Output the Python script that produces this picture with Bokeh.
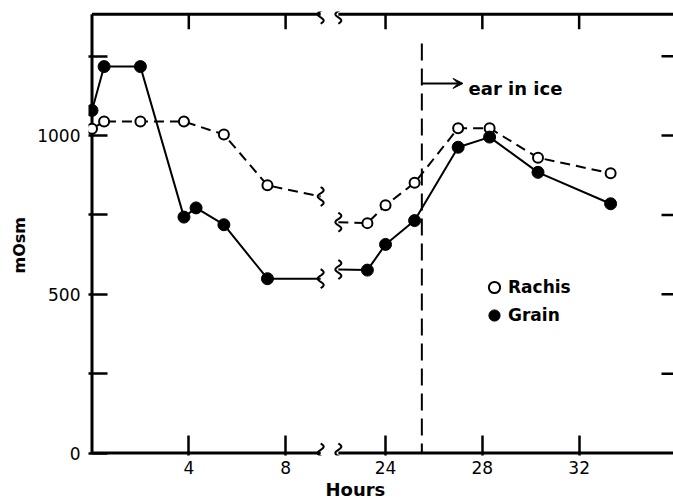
import numpy as np
from bokeh.plotting import figure
from bokeh.models import (Range1d, LinearAxis, FixedTicker, CustomJSTickFormatter, Label,
                          Legend, LegendItem, Arrow, VeeHead, Title)
from bokeh.embed import file_html
from bokeh.resources import INLINE

# ---------------- data ----------------
rachis_hours = [0, 0.5, 2, 3.8, 5.45, 7.25, 23.25, 24, 25.2, 27, 28.3, 30.3, 33.3]
rachis_mosm = [1021, 1044, 1044, 1044, 1003, 843, 724, 780, 851, 1023, 1023, 930, 881]
grain_hours = [0, 0.5, 2, 3.8, 4.3, 5.45, 7.25, 23.25, 24, 25.2, 27, 28.3, 30.3, 33.3]
grain_mosm = [1079, 1217, 1217, 743, 772, 719, 549, 576, 657, 732, 963, 995, 884, 785]
# line values where each series meets the axis break (left side, right side)
break_hours = [9.45, 22.05]
rachis_break_mosm = [808, 727]
grain_break_mosm = [549, 578]

x_tick_hours = [4, 8, 24, 28, 32]
y_ticks = [0, 250, 500, 750, 1000, 1250]
ice_hour = 25.5

# ---------------- geometry ----------------
W, H = 673, 501
B_L, B_T, B_B = 88, 11, 46
FRAME_W = W - B_L
FRAME_H = H - B_T - B_B
PX_U = 24.2      # pixels per plotted hour
PX_Y = 0.3175    # pixels per mOsm
GAP = 11.87      # hours cut out by the axis break

x_start = -3.5 / PX_U
x_end = x_start + FRAME_W / PX_U
y_start = -2.5 / PX_Y
y_end = y_start + FRAME_H / PX_Y
y_top = 1382


def to_u(h):
    return h if h < 15 else h - GAP


u_bl, u_br = to_u(break_hours[0]), to_u(break_hours[1])

p = figure(width=W, height=H, x_range=Range1d(x_start, x_end), y_range=Range1d(y_start, y_end),
           output_backend="svg", toolbar_location=None, x_axis_location=None, y_axis_location=None,
           min_border_left=B_L, min_border_right=0, min_border_top=B_T, min_border_bottom=B_B)
p.outline_line_color = None
p.grid.visible = False
p.background_fill_color = "white"
p.border_fill_color = "white"

FONT = "DejaVu Sans"

xaxis = LinearAxis(ticker=FixedTicker(ticks=[to_u(h) for h in x_tick_hours]),
                   formatter=CustomJSTickFormatter(args=dict(off=GAP),
                                                   code="return (tick > 10 ? tick + off : tick).toFixed(0);"),
                   axis_line_color=None, major_tick_in=20, major_tick_out=0,
                   major_tick_line_width=2.5, major_tick_line_color="black",
                   minor_tick_line_color=None, major_label_standoff=5,
                   major_label_text_font=FONT, major_label_text_font_size="17px",
                   major_label_text_color="black")
p.add_layout(xaxis, "below")

yaxis = LinearAxis(ticker=FixedTicker(ticks=y_ticks),
                   formatter=CustomJSTickFormatter(code="return (Math.round(tick) % 500 == 0) ? tick.toFixed(0) : '';"),
                   axis_line_color=None, major_tick_in=19, major_tick_out=0,
                   major_tick_line_width=2.5, major_tick_line_color="black",
                   minor_tick_line_color=None, major_label_standoff=8,
                   major_label_text_font=FONT, major_label_text_font_size="17px",
                   major_label_text_color="black")
p.add_layout(yaxis, "left")

# axis titles (placed off-centre as in the original)
p.add_layout(Title(text="Hours", align="left", offset=237, standoff=0, text_font=FONT,
                   text_font_style="bold", text_font_size="18px", text_color="black"), "below")
p.add_layout(Title(text="mOsm", align="left", offset=182, standoff=11, text_font=FONT,
                   text_font_style="bold", text_font_size="16px", text_color="black"), "left")

# frame lines with break
p.multi_line(xs=[[0, 0], [0, u_bl], [u_br, x_end], [0, u_bl], [u_br, x_end]],
             ys=[[0, y_top], [0, 0], [0, 0], [y_top, y_top], [y_top, y_top]],
             line_color="black", line_width=3)

# top ticks (inward) and right ticks (inward)
top_len = 15 / PX_Y
p.segment(x0=[to_u(h) for h in x_tick_hours], y0=[y_top] * len(x_tick_hours),
          x1=[to_u(h) for h in x_tick_hours], y1=[y_top - top_len] * len(x_tick_hours),
          line_color="black", line_width=2.5)
rt = [t for t in y_ticks if t > 0]
p.segment(x0=[x_end - 12 / PX_U] * len(rt), y0=rt, x1=[x_end] * len(rt), y1=rt,
          line_color="black", line_width=2.5)


def squiggle(u0, y0, h_px=19, w_px=3.0):
    t = np.linspace(0, 1, 30)
    dy = (t - 0.5) * h_px
    dx = w_px * np.sin(3 * np.pi * t)
    return list(u0 + dx / PX_U), list(y0 - dy / PX_Y)


# ear in ice vertical dashed line
p.line(x=[to_u(ice_hour)] * 2, y=[1290, 0], line_color="black", line_width=2, line_dash="17 8")


# series lines (split at the break)
def split(hours, vals, brk):
    lh = [h for h in hours if h < 15]
    lv = [v for h, v in zip(hours, vals) if h < 15]
    rh = [h for h in hours if h >= 15]
    rv = [v for h, v in zip(hours, vals) if h >= 15]
    left = ([to_u(h) for h in lh] + [u_bl], lv + [brk[0]])
    right = ([u_br] + [to_u(h) for h in rh], [brk[1]] + rv)
    return left, right


for (xs_, ys_) in split(rachis_hours, rachis_mosm, rachis_break_mosm):
    p.line(x=xs_, y=ys_, line_color="black", line_width=2, line_dash="10 6")
for (xs_, ys_) in split(grain_hours, grain_mosm, grain_break_mosm):
    p.line(x=xs_, y=ys_, line_color="black", line_width=2)

# break squiggles
sq_pts = [(u_bl, 0), (u_br, 0), (u_bl, y_top), (u_br, y_top),
          (u_bl, rachis_break_mosm[0]), (u_br, rachis_break_mosm[1]),
          (u_bl, grain_break_mosm[0]), (u_br, grain_break_mosm[1])]
sx, sy = [], []
for (u0, y0) in sq_pts:
    a, b = squiggle(u0, y0)
    sx.append(a)
    sy.append(b)
p.multi_line(xs=sx, ys=sy, line_color="black", line_width=2)

# markers
r_sc = p.scatter(x=[to_u(h) for h in rachis_hours], y=rachis_mosm, marker="circle", size=10,
                 fill_color="white", line_color="black", line_width=2)
g_sc = p.scatter(x=[to_u(h) for h in grain_hours], y=grain_mosm, marker="circle", size=12,
                 fill_color="black", line_color="black", line_width=1)

legend = Legend(items=[LegendItem(label="Rachis", renderers=[r_sc]),
                       LegendItem(label="Grain", renderers=[g_sc])],
                location=(392, 126), glyph_width=28, glyph_height=28, spacing=0, padding=0,
                margin=0, label_standoff=0, border_line_color=None, background_fill_alpha=0,
                label_text_font=FONT, label_text_font_style="bold", label_text_font_size="17px",
                label_text_color="black")
p.add_layout(legend)

# annotation: arrow + "ear in ice"
p.add_layout(Arrow(end=VeeHead(size=10, fill_color="black", line_color="black"),
                   x_start=to_u(ice_hour), y_start=1164, x_end=to_u(27.2), y_end=1164,
                   line_width=2, line_color="black"))
p.add_layout(Label(x=to_u(27.43), y=1147, text="ear in ice", text_font=FONT,
                   text_font_style="bold", text_font_size="18px", text_align="left",
                   text_baseline="alphabetic", text_color="black"))

open("out.html", "w").write(file_html(p, INLINE))
